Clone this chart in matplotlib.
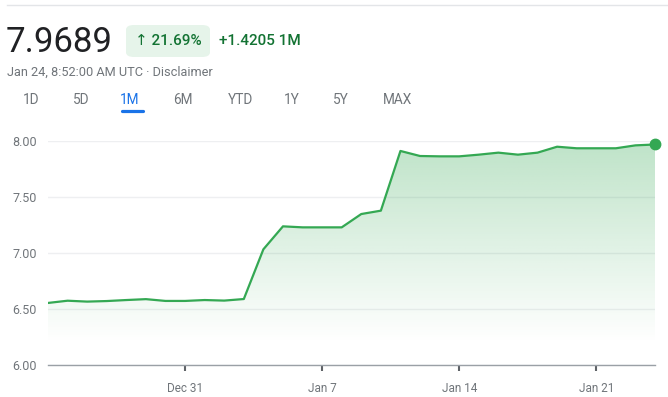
import matplotlib
matplotlib.use("Agg")
import matplotlib.pyplot as plt
import matplotlib.dates as mdates
from matplotlib.patches import FancyBboxPatch, Polygon
import numpy as np
import pandas as pd

plt.rcParams['font.family'] = ['Roboto', 'DejaVu Sans']

dates = ["2023-12-24", "2023-12-25", "2023-12-26", "2023-12-27", "2023-12-28",
         "2023-12-29", "2023-12-30", "2023-12-31", "2024-01-01", "2024-01-02",
         "2024-01-03", "2024-01-04", "2024-01-05", "2024-01-06", "2024-01-07",
         "2024-01-08", "2024-01-09", "2024-01-10", "2024-01-11", "2024-01-12",
         "2024-01-13", "2024-01-14", "2024-01-15", "2024-01-16", "2024-01-17",
         "2024-01-18", "2024-01-19", "2024-01-20", "2024-01-21", "2024-01-22",
         "2024-01-23", "2024-01-24"]
values = [6.554, 6.574, 6.566, 6.571, 6.580, 6.588, 6.572, 6.572, 6.580, 6.575,
          6.589, 7.033, 7.238, 7.229, 7.229, 7.229, 7.348, 7.378, 7.911, 7.866,
          7.863, 7.863, 7.878, 7.896, 7.878, 7.896, 7.949, 7.935, 7.935, 7.935,
          7.961, 7.9689]
y_ticks = [6.00, 6.50, 7.00, 7.50, 8.00]
x_tick_dates = ["2023-12-31", "2024-01-07", "2024-01-14", "2024-01-21"]
x_tick_labels = ["Dec 31", "Jan 7", "Jan 14", "Jan 21"]
tabs = ["1D", "5D", "1M", "6M", "YTD", "1Y", "5Y", "MAX"]
tab_x = [31, 81, 130, 183, 240, 292, 341, 397]

W, H = 668, 397
GREEN = "#34a853"
GRAY = "#70757a"

fig = plt.figure(figsize=(W / 100, H / 100), dpi=100)
fig.patch.set_facecolor("white")

def fx(x):
    return x / W

def fy(y):
    return 1 - y / H

ax = fig.add_axes([fx(48), fy(365), fx(655) - fx(48), fy(141) - fy(365)])
x = mdates.date2num(pd.to_datetime(dates))
y = np.array(values)

ax.set_xlim(x[0], x[-1])
ax.set_ylim(6.0, 8.0)

# gradient fill under line
grad_top, grad_bottom = 8.0, 6.2
ny = 200
ys = np.linspace(6.0, 8.0, ny)
alpha = np.clip((ys - grad_bottom) / (grad_top - grad_bottom), 0, 1) * 0.32
img = np.zeros((ny, 2, 4))
img[..., 0] = 52 / 255
img[..., 1] = 168 / 255
img[..., 2] = 83 / 255
img[..., 3] = alpha[:, None]
im = ax.imshow(img, extent=[x[0], x[-1], 6.0, 8.0], origin="lower",
               aspect="auto", interpolation="bilinear", zorder=1)
poly_pts = np.column_stack([np.concatenate([x, [x[-1], x[0]]]),
                            np.concatenate([y, [6.0, 6.0]])])
poly = Polygon(poly_pts, closed=True, facecolor="none", edgecolor="none")
ax.add_patch(poly)
im.set_clip_path(poly)

ax.plot(x, y, color=GREEN, lw=1.6, zorder=3, solid_joinstyle="round")
ax.plot([x[-1]], [y[-1]], "o", color=GREEN, ms=7.5, zorder=4, clip_on=False)

ax.set_yticks(y_ticks)
ax.set_yticklabels([f"{v:.2f}" for v in y_ticks])
ax.set_xticks(mdates.date2num(pd.to_datetime(x_tick_dates)))
ax.set_xticklabels(x_tick_labels)
ax.tick_params(axis="y", length=0, pad=8, labelsize=9, labelcolor=GRAY)
ax.tick_params(axis="x", length=4, width=1.5, color="#5f6368", pad=8,
               labelsize=8.5, labelcolor=GRAY)
for s in ["top", "right", "left"]:
    ax.spines[s].set_visible(False)
ax.spines["bottom"].set_color("#9aa0a6")
ax.spines["bottom"].set_linewidth(1.0)
ax.set_axisbelow(True)
ax.grid(axis="y", color="#eeeff1", lw=1.0)
ax.grid(axis="x", visible=False)
ax.set_facecolor("none")

# top separator line
fig.add_artist(plt.Line2D([fx(7), 1.0], [fy(4.5), fy(4.5)], color="#e3e5e8",
                          lw=1.0, transform=fig.transFigure))

# header
fig.text(fx(6), fy(42), "7.9689", fontsize=25, color="#202124",
         va="center", ha="left", fontweight="normal")
badge = FancyBboxPatch((fx(126), fy(57)), fx(210) - fx(126), fy(25) - fy(57),
                       boxstyle="round,pad=0,rounding_size=0.012",
                       transform=fig.transFigure, facecolor="#e6f4ea",
                       edgecolor="none")
fig.add_artist(badge)
fig.text(fx(168), fy(41), "↑ 21.69%", fontsize=11, color="#137333",
         va="center", ha="center", fontweight="medium")
fig.text(fx(219), fy(41), "+1.4205 1M", fontsize=11, color="#137333",
         va="center", ha="left", fontweight="medium")
fig.text(fx(7), fy(72.5), "Jan 24, 8:52:00 AM UTC · Disclaimer", fontsize=9.2,
         color=GRAY, va="center", ha="left")

for label, tx in zip(tabs, tab_x):
    col = "#1a73e8" if label == "1M" else GRAY
    fig.text(fx(tx), fy(100.5), label, fontsize=9.8, color=col,
             va="center", ha="center", fontweight="normal")
fig.add_artist(plt.Line2D([fx(121.5), fx(142.5)], [fy(111), fy(111)],
                          color="#1a73e8", lw=2.3, solid_capstyle="round",
                          transform=fig.transFigure))

fig.savefig("out.png", dpi=100, facecolor="white")
